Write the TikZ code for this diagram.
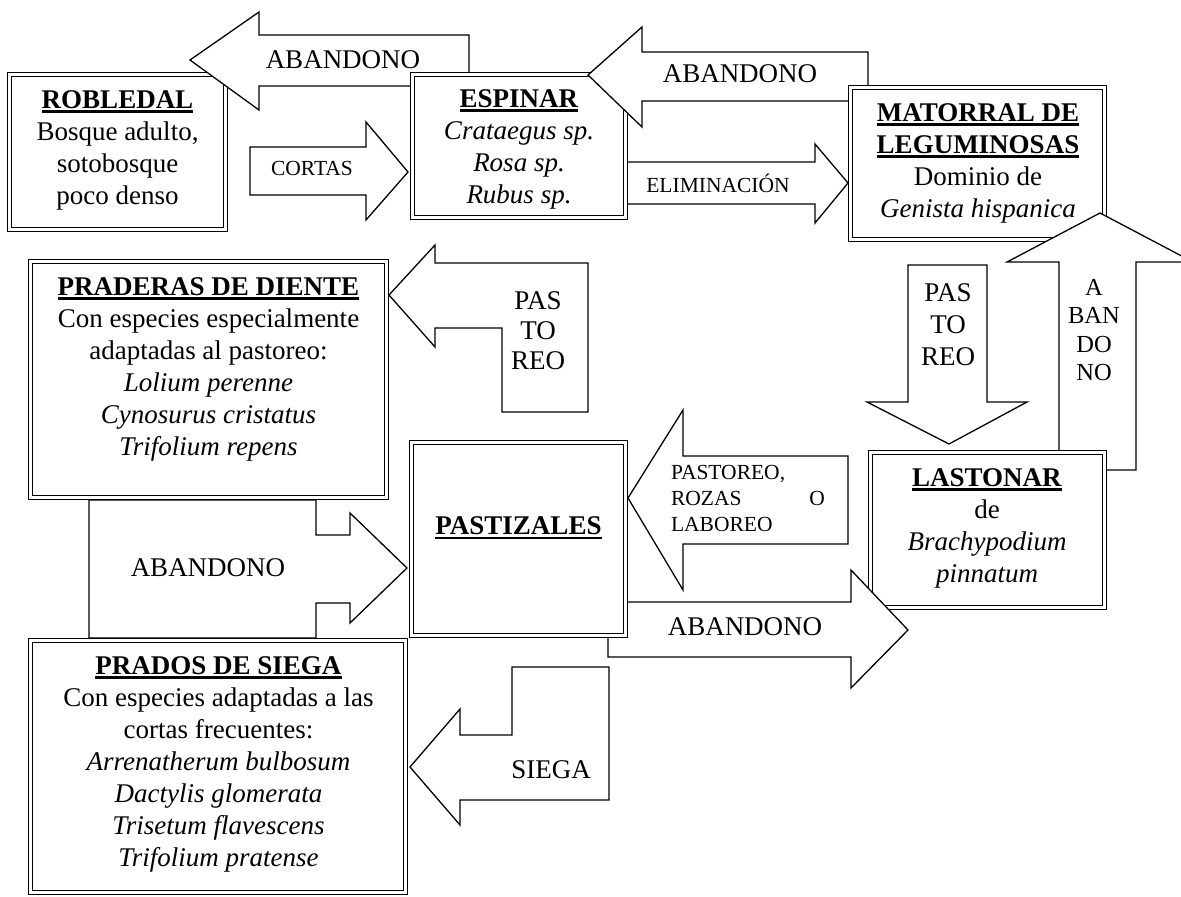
\documentclass[tikz,border=0pt]{standalone}
\usepackage{fontspec}
\setmainfont{Liberation Serif}
\newsavebox\ulbox
\newcommand\myul[1]{\sbox\ulbox{#1}\rlap{\rule[-4.5pt]{\wd\ulbox}{2.6pt}}\usebox\ulbox}
\newcommand\ttl[1]{\myul{\textbf{#1}}}
\begin{document}
\begin{tikzpicture}[x=1pt,y=-1pt,
  box/.style={draw, double, double distance=3pt, line width=1.2pt, fill=white, inner sep=0pt, outer sep=0pt},
  blk/.style={draw, line width=1.3pt, fill=white, line join=miter},
  bigtxt/.style={font=\fontsize{27}{32}\selectfont, align=center, inner sep=0pt},
  smalltxt/.style={font=\fontsize{21.5}{26}\selectfont, align=left, inner sep=0pt},
  vtxt/.style={font=\fontsize{24.5}{28.5}\selectfont, align=center, inner sep=0pt}]
\useasboundingbox[fill=white] (0,0) rectangle (1181,897);

% ROBLEDAL
\node[box, minimum width=215.6pt, minimum height=154.6pt] (robledal) at (117.5,152) {};
\node[bigtxt] (robledal-t) at (117.5,150) {\ttl{ROBLEDAL}\\Bosque adulto,\\sotobosque\\poco denso};

% ABANDONO top-left
\draw[blk] (190,60) -- (259,12) -- (259,35) -- (469,35) -- (469,86) -- (259,86) -- (259,110) -- cycle;
\node[bigtxt] (ab1) at (343,60) {ABANDONO};

% CORTAS
\draw[blk] (250,147) -- (366,147) -- (366,122) -- (408,172) -- (366,220) -- (366,195) -- (250,195) -- cycle;
\node[smalltxt] (cortas) at (312,168) {CORTAS};

% ELIMINACION
\draw[blk] (626,162) -- (815,162) -- (815,144) -- (848,183) -- (815,223) -- (815,204) -- (626,204) -- cycle;
\node[smalltxt] (elim) at (718,183) {ELIMINACIÓN};

% ESPINAR
\node[box, minimum width=212.6pt, minimum height=142.6pt] (espinar) at (519,146) {};
\node[bigtxt] (espinar-t) at (519,149) {\ttl{ESPINAR}\\\textit{Crataegus sp.}\\\textit{Rosa sp.}\\\textit{Rubus sp.}};

% ABANDONO top-right
\draw[blk] (588,75) -- (642,27) -- (642,52) -- (868,52) -- (868,101) -- (642,101) -- (642,127) -- cycle;
\node[bigtxt] (ab2) at (740,74) {ABANDONO};

% MATORRAL
\node[box, minimum width=253.6pt, minimum height=151.6pt] (matorral) at (977.5,163.5) {};
\node[bigtxt] (matorral-t) at (978,163) {\ttl{MATORRAL DE}\\\ttl{LEGUMINOSAS}\\Dominio de\\\textit{Genista hispanica}};

% ABANDONO up arrow
\draw[blk] (1059,470) -- (1059,262) -- (1007,262) -- (1100,213) -- (1193,262) -- (1136,262) -- (1136,470) -- cycle;
\node[vtxt] (ab3) at (1094,330) {A\\BAN\\DO\\NO};

% PASTOREO down arrow
\draw[blk] (908,265) -- (987,265) -- (987,402) -- (1027,402) -- (949,444) -- (867,402) -- (908,402) -- cycle;
\node[bigtxt] (past1) at (948,325) {PAS\\TO\\REO};

% LASTONAR
\node[box, minimum width=233.6pt, minimum height=154.6pt] (lastonar) at (987.5,530) {};
\node[bigtxt] (lastonar-t) at (987,528) {\ttl{LASTONAR}\\de\\\textit{Brachypodium}\\\textit{pinnatum}};

% ABANDONO bottom arrow
\draw[blk] (608,602) -- (851,602) -- (851,570) -- (908,630) -- (851,688) -- (851,657) -- (608,657) -- cycle;
\node[bigtxt] (ab4) at (745,627) {ABANDONO};

% PASTIZALES
\node[box, minimum width=213.6pt, minimum height=192.6pt] (pastizales) at (518.5,539) {};
\node[bigtxt] (pastizales-t) at (518.5,528) {\ttl{PASTIZALES}};

% PASTOREO, ROZAS O LABOREO
\draw[blk] (628,498) -- (683,410) -- (683,456) -- (848,456) -- (848,544) -- (683,544) -- (683,590) -- cycle;
\node[smalltxt] (rozas) at (748,498) {PASTOREO,\\\makebox[154pt][s]{ROZAS\hfill O}\\LABOREO};

% ABANDONO middle-left
\draw[blk] (89,500) -- (316,500) -- (316,535) -- (350,535) -- (350,513) -- (407,568) -- (350,623) -- (350,603) -- (316,603) -- (316,638) -- (89,638) -- cycle;
\node[bigtxt] (ab5) at (208,568) {ABANDONO};

% PRADERAS
\node[box, minimum width=355.6pt, minimum height=235.6pt] (praderas) at (208.5,379.5) {};
\node[bigtxt] (praderas-t) at (208.5,369) {\ttl{PRADERAS DE DIENTE}\\Con especies especialmente\\adaptadas al pastoreo:\\\textit{Lolium perenne}\\\textit{Cynosurus cristatus}\\\textit{Trifolium repens}};

% PRADOS
\node[box, minimum width=374.6pt, minimum height=251.6pt] (prados) at (218,766.5) {};
\node[bigtxt] (prados-t) at (218.5,764) {\ttl{PRADOS DE SIEGA}\\Con especies adaptadas a las\\cortas frecuentes:\\\textit{Arrenatherum bulbosum}\\\textit{Dactylis glomerata}\\\textit{Trisetum flavescens}\\\textit{Trifolium pratense}};

% PASTOREO L-arrow
\draw[blk] (389,295) -- (435,245) -- (435,263) -- (588,263) -- (588,412) -- (502,412) -- (502,328) -- (435,328) -- (435,347) -- cycle;
\node[bigtxt, font=\fontsize{27}{30}\selectfont] (past2) at (538,331) {PAS\\TO\\REO};

% SIEGA
\draw[blk] (410,767) -- (460,709) -- (460,735) -- (512,735) -- (512,667) -- (609,667) -- (609,800) -- (460,800) -- (460,825) -- cycle;
\node[bigtxt] (siega) at (551,770) {SIEGA};
\end{tikzpicture}
\end{document}
